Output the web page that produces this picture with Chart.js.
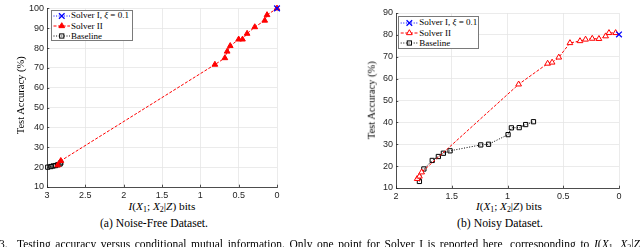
<!DOCTYPE html>
<html><head><meta charset="utf-8">
<script src="https://cdn.jsdelivr.net/npm/chart.js@4/dist/chart.umd.min.js"></script>
<style>
html,body{margin:0;padding:0;background:#fff;}
body{width:640px;height:247px;overflow:hidden;position:relative;}
canvas{position:absolute;}
.t{position:absolute;white-space:nowrap;color:#000;font-family:"Liberation Serif","Times New Roman",serif;line-height:1;}
.t i{font-style:italic;}
.t sub{font-size:0.7em;vertical-align:-0.3em;line-height:0;}
.lg{position:absolute;background:#fff;border:0.8px solid #7a7a7a;box-sizing:border-box;}
.row{position:absolute;left:0;height:10px;}
.row svg{position:absolute;left:0;top:0;}
</style></head><body>
<canvas id="c1" width="290" height="200" style="left:0;top:0"></canvas>
<canvas id="c2" width="310" height="200" style="left:320px;top:0"></canvas>
<div id="overlay"></div>
<script>
// ---------- data ----------
const xTicksFree = [0, 0.5, 1, 1.5, 2, 2.5, 3];
const yTicksFree = [10, 20, 30, 40, 50, 60, 70, 80, 90, 100];
const xTicksNoisy = [0, 0.5, 1, 1.5, 2];
const yTicksNoisy = [10, 20, 30, 40, 50, 60, 70, 80, 90];

const seriesNames = ['Solver I, ξ = 0.1', 'Solver II', 'Baseline'];
const captions = ['(a) Noise-Free Dataset.', '(b) Noisy Dataset.'];
const yTitle = 'Test Accuracy (%)';

const freeSolverIX = [0];
const freeSolverIY = [100];
const freeSolverIIX = [2.86, 2.82, 0.81, 0.68, 0.65, 0.61, 0.50, 0.45, 0.39, 0.29, 0.16, 0.13, 0];
const freeSolverIIY = [21, 23.2, 71.7, 75, 78.3, 81.1, 84.4, 84.4, 87.3, 90.6, 93.9, 96.7, 100];
const freeBaselineX = [2.99, 2.95, 2.92, 2.89, 2.86, 2.83, 2.82];
const freeBaselineY = [20, 20.3, 20.6, 20.8, 21.2, 21.6, 22.2];

const noisySolverIX = [0];
const noisySolverIY = [80.2];
const noisySolverIIX = [1.81, 1.79, 1.77, 0.90, 0.64, 0.60, 0.54, 0.44, 0.35, 0.30, 0.24, 0.18, 0.12, 0.09, 0.03];
const noisySolverIIY = [14.2, 15.3, 17.2, 57.4, 66.9, 67.4, 69.7, 76.3, 77.2, 77.9, 78.3, 78.2, 79.4, 80.9, 80.9];
const noisyBaselineX = [1.79, 1.75, 1.675, 1.62, 1.575, 1.515, 1.24, 1.17, 0.995, 0.965, 0.895, 0.837, 0.767];
const noisyBaselineY = [13, 18.7, 22.6, 24.4, 25.9, 27, 29.7, 30, 34.4, 37.5, 37.6, 39, 40.3];

// ---------- helpers ----------
const zip = (xs, ys) => xs.map((x, i) => ({x: x, y: ys[i]}));
const BLUE = 'rgb(0,0,255)', RED = 'rgb(255,0,0)', BLACK = 'rgb(0,0,0)';
const AX = '#262626', GRID = '#e6e6e6';

function datasets(s1x, s1y, s2x, s2y, bx, by, filledTri) {
  return [
    {label: seriesNames[0], data: zip(s1x, s1y), borderColor: BLUE, borderWidth: 1, borderDash: [1, 1.6],
     pointStyle: 'crossRot', pointRadius: 4, pointBorderWidth: 1.3, pointBorderColor: BLUE, showLine: true, clip: false},
    {label: seriesNames[1], data: zip(s2x, s2y), borderColor: RED, borderWidth: 1, borderDash: [3, 1.6],
     pointStyle: 'triangle', pointRadius: 3.3, pointBorderWidth: 1, pointBorderColor: RED,
     pointBackgroundColor: filledTri ? RED : '#fff', showLine: true, clip: false},
    {label: seriesNames[2], data: zip(bx, by), borderColor: BLACK, borderWidth: 1, borderDash: [1, 1.6],
     pointStyle: 'rect', pointRadius: 3, pointBorderWidth: 1, pointBorderColor: BLACK,
     pointBackgroundColor: 'rgba(255,255,255,0)', showLine: true, clip: false}
  ];
}

const inwardTicks = {
  id: 'inwardTicks',
  afterDatasetsDraw(chart) {
    const {ctx, chartArea: a, scales} = chart;
    ctx.save();
    ctx.strokeStyle = AX; ctx.lineWidth = 0.8;
    ctx.beginPath();
    scales.x.ticks.forEach(t => { const p = Math.round(scales.x.getPixelForValue(t.value)) + 0.5; ctx.moveTo(p, a.bottom); ctx.lineTo(p, a.bottom - 2.3); });
    scales.y.ticks.forEach(t => { const p = Math.round(scales.y.getPixelForValue(t.value)) + 0.5; ctx.moveTo(a.left, p); ctx.lineTo(a.left + 2.3, p); });
    ctx.stroke();
    ctx.restore();
  }
};

function makeChart(id, ds, xT, yT, pad, yW, xH) {
  const tickFont = {family: '"Liberation Sans", Arial, sans-serif', size: 9};
  return new Chart(document.getElementById(id), {
    type: 'line',
    data: {datasets: ds},
    plugins: [inwardTicks],
    options: {
      responsive: false, animation: false,
      layout: {padding: pad},
      plugins: {legend: {display: false}, tooltip: {enabled: false}},
      scales: {
        x: {type: 'linear', reverse: true, min: xT[0], max: xT[xT.length - 1],
            afterBuildTicks: s => { s.ticks = xT.map(v => ({value: v})); },
            afterFit: s => { s.height = xH; },
            ticks: {color: AX, font: tickFont, padding: 3, maxRotation: 0, autoSkip: false, callback: v => String(v)},
            grid: {color: GRID, lineWidth: 0.8, drawTicks: false},
            border: {color: AX, width: 0.8}},
        y: {type: 'linear', min: yT[0], max: yT[yT.length - 1],
            afterBuildTicks: s => { s.ticks = yT.map(v => ({value: v})); },
            afterFit: s => { s.width = yW; },
            ticks: {color: AX, font: tickFont, padding: 3, autoSkip: false, callback: v => String(v)},
            grid: {color: GRID, lineWidth: 0.8, drawTicks: false},
            border: {color: AX, width: 0.8}}
      }
    }
  });
}

makeChart('c1', datasets(freeSolverIX, freeSolverIY, freeSolverIIX, freeSolverIIY, freeBaselineX, freeBaselineY, true),
          xTicksFree, yTicksFree, {left: 0, top: 4, right: 13, bottom: 0}, 47, 13);
makeChart('c2', datasets(noisySolverIX, noisySolverIY, noisySolverIIX, noisySolverIIY, noisyBaselineX, noisyBaselineY, false),
          xTicksNoisy, yTicksNoisy, {left: 0, top: 13, right: 11, bottom: 0}, 76, 12);

// ---------- text overlays ----------
const ov = document.getElementById('overlay');
function addText(html, size, cx, cy, targetW, rotate) {
  const d = document.createElement('div');
  d.className = 't';
  d.innerHTML = html;
  d.style.fontSize = size + 'px';
  ov.appendChild(d);
  if (targetW) {
    const w = d.getBoundingClientRect().width;
    d.style.fontSize = (size * targetW / w) + 'px';
  }
  const w = d.offsetWidth, h = d.offsetHeight;
  d.style.left = (cx - w / 2) + 'px';
  d.style.top = (cy - h / 2) + 'px';
  if (rotate) d.style.transform = 'rotate(-90deg)';
  return d;
}
const xTitleHTML = '<i>I</i>(<i>X</i><sub>1</sub>; <i>X</i><sub>2</sub>|<i>Z</i>) bits';
addText(xTitleHTML, 11, 162, 206, 67);
addText(xTitleHTML, 11, 509, 206, 66);
addText(captions[0], 11.5, 154, 224, 108);
addText(captions[1], 11.5, 500, 224, 86);
addText(yTitle, 10, 20.5, 95.5, 78, true);
addText(yTitle, 10, 372, 100.5, 78, true);

// bottom caption line (partly cut)
const fig = document.createElement('div');
fig.className = 't';
fig.style.fontSize = '11.5px';
fig.innerHTML = '3.';
fig.style.left = '-1px'; fig.style.top = '238.5px';
ov.appendChild(fig);
const fig2 = document.createElement('div');
fig2.className = 't';
fig2.style.fontSize = '11.5px';
fig2.innerHTML = 'Testing accuracy versus conditional mutual information. Only one point for Solver I is reported here, corresponding to <i>I</i>(<i>X</i><sub>1</sub>, <i>X</i><sub>2</sub>|<i>Z</i>';
fig2.style.left = '17px'; fig2.style.top = '238.5px';
ov.appendChild(fig2);
{
  const w = fig2.getBoundingClientRect().width;
  const spaces = (fig2.textContent.match(/ /g) || []).length;
  fig2.style.wordSpacing = ((640 - 17 - w) / spaces) + 'px';
}

// legends
function legend(left, top, w, h, rowYs, lineX0, lineX1, textX, filledTri) {
  const box = document.createElement('div');
  box.className = 'lg';
  Object.assign(box.style, {left: left + 'px', top: top + 'px', width: w + 'px', height: h + 'px'});
  ov.appendChild(box);
  const styles = [
    {c: BLUE, dash: '1 1.6', m: 'x'},
    {c: RED, dash: '3 1.6', m: 'tri'},
    {c: BLACK, dash: '1 1.6', m: 'sq'}
  ];
  const labels = ['Solver I, <i>ξ</i> = 0.1', seriesNames[1], seriesNames[2]];
  styles.forEach((s, i) => {
    const cy = rowYs[i];
    const mx = (lineX0 + lineX1) / 2;
    let mk = '';
    if (s.m === 'x') mk = `<path d="M${mx-2.8} ${5-2.8} L${mx+2.8} ${5+2.8} M${mx-2.8} ${5+2.8} L${mx+2.8} ${5-2.8}" stroke="${s.c}" stroke-width="1.3"/>`;
    if (s.m === 'tri') mk = `<path d="M${mx} ${5-3.3} L${mx+2.86} ${5+1.65} L${mx-2.86} ${5+1.65} Z" stroke="${s.c}" stroke-width="1" fill="${filledTri ? s.c : '#fff'}"/>`;
    if (s.m === 'sq') mk = `<rect x="${mx-2.1}" y="${5-2.1}" width="4.2" height="4.2" stroke="${s.c}" stroke-width="1" fill="none"/>`;
    const row = document.createElement('div');
    row.className = 'row';
    row.style.top = (cy - 5) + 'px';
    row.style.width = w + 'px';
    row.innerHTML = `<svg width="${w}" height="10"><line x1="${lineX0}" y1="5" x2="${lineX1}" y2="5" stroke="${s.c}" stroke-width="1" stroke-dasharray="${s.dash}"/>${mk}</svg>`;
    box.appendChild(row);
    const tx = document.createElement('div');
    tx.className = 't';
    tx.innerHTML = labels[i];
    tx.style.fontSize = '9px';
    tx.style.left = textX + 'px';
    row.appendChild(tx);
    tx.style.top = (5 - tx.offsetHeight / 2) + 'px';
  });
}
legend(50.5, 10, 82.5, 31, [4.7, 15, 25.3], 1.5, 18, 19.5, true);
legend(398, 15.5, 81, 33.5, [6, 16.6, 26.6], 1.7, 19, 20.3, false);
</script>
</body></html>
